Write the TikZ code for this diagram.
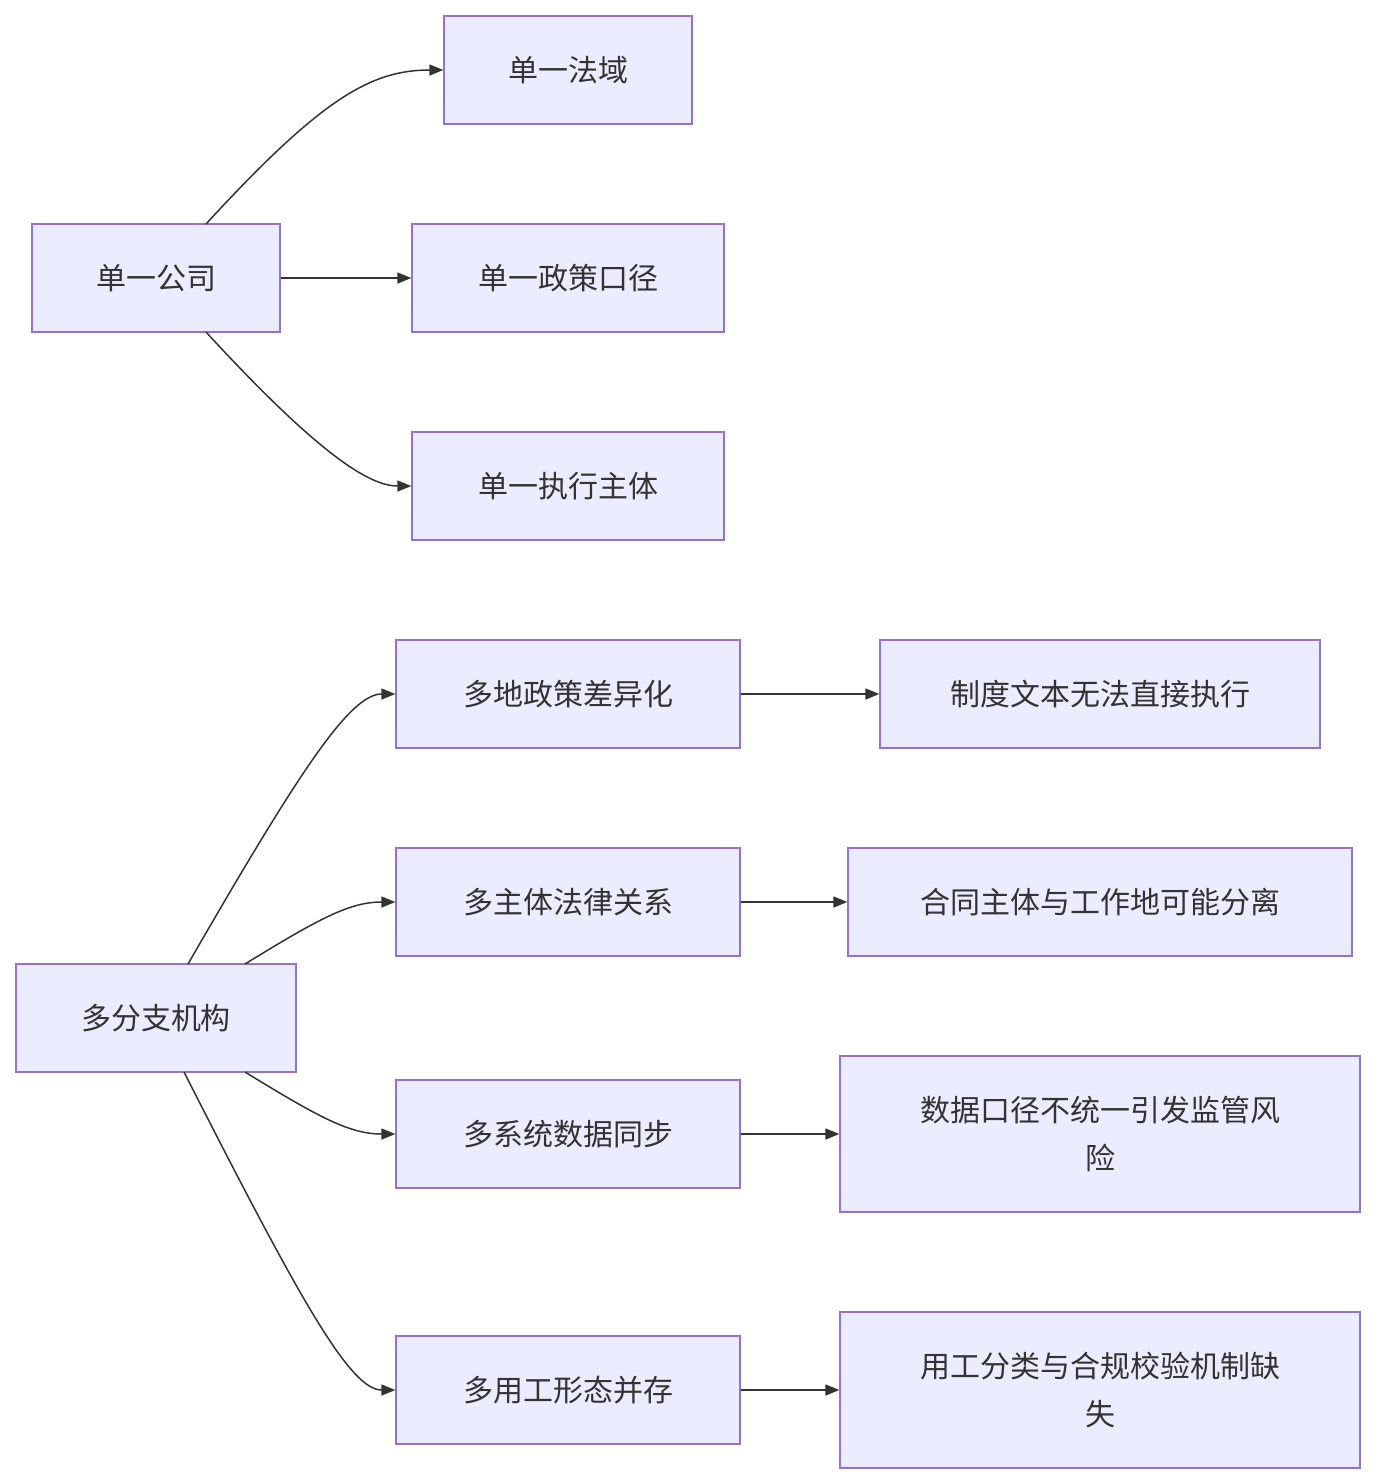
\documentclass[tikz,border=0pt]{standalone}
\usepackage{fontspec}
\setmainfont{Noto Sans CJK SC}
\usetikzlibrary{arrows.meta}
\definecolor{bx}{HTML}{ECECFF}
\definecolor{bd}{HTML}{9370DB}
\definecolor{ln}{HTML}{333333}
\begin{document}
\begin{tikzpicture}[x=1pt,y=-1pt,
 box/.style={draw=bd,fill=bx,line width=1.3pt,inner sep=0pt,text=ln,align=center,font=\fontsize{30}{48}\selectfont},
 arr/.style={draw=ln,line width=1.5pt,-{Triangle[length=14pt,width=11pt]}}]
\useasboundingbox (0,0) rectangle (1376,1484);
\newcommand\bx[6]{\node[box,minimum width=#4-#3,minimum height=#6-#5] (#1) at ({(#3+#4)/2},{(#5+#6)/2}) {#2};}
\bx{a}{单一法域}{444}{692}{16}{124}
\bx{s}{单一公司}{32}{280}{224}{332}
\bx{b}{单一政策口径}{412}{724}{224}{332}
\bx{c}{单一执行主体}{412}{724}{432}{540}
\bx{m}{多分支机构}{16}{296}{964}{1072}
\bx{d1}{多地政策差异化}{396}{740}{640}{748}
\bx{e1}{制度文本无法直接执行}{880}{1320}{640}{748}
\bx{d2}{多主体法律关系}{396}{740}{848}{956}
\bx{e2}{合同主体与工作地可能分离}{848}{1352}{848}{956}
\bx{d3}{多系统数据同步}{396}{740}{1080}{1188}
\bx{e3}{数据口径不统一引发监管风\\险}{840}{1360}{1056}{1212}
\bx{d4}{多用工形态并存}{396}{740}{1336}{1444}
\bx{e4}{用工分类与合规校验机制缺\\失}{840}{1360}{1312}{1468}
\coordinate (s1) at (206,224);
\coordinate (s2) at (206,332);
\coordinate (m1) at (188,964);
\coordinate (m2) at (245,964);
\coordinate (m3) at (245,1072);
\coordinate (m4) at (184,1072);
\draw[arr] (s1) .. controls (320,100) and (370,70) .. (a.west);
\draw[arr] (s.east) -- (b.west);
\draw[arr] (s2) .. controls (320,456) and (370,486) .. (c.west);
\draw[arr] (m1) .. controls (300,770) and (350,694) .. (d1.west);
\draw[arr] (m2) .. controls (320,918) and (350,902) .. (d2.west);
\draw[arr] (m3) .. controls (320,1118) and (350,1134) .. (d3.west);
\draw[arr] (m4) .. controls (300,1300) and (350,1390) .. (d4.west);
\draw[arr] (d1.east) -- (e1.west);
\draw[arr] (d2.east) -- (e2.west);
\draw[arr] (d3.east) -- (e3.west);
\draw[arr] (d4.east) -- (e4.west);
\end{tikzpicture}
\end{document}
